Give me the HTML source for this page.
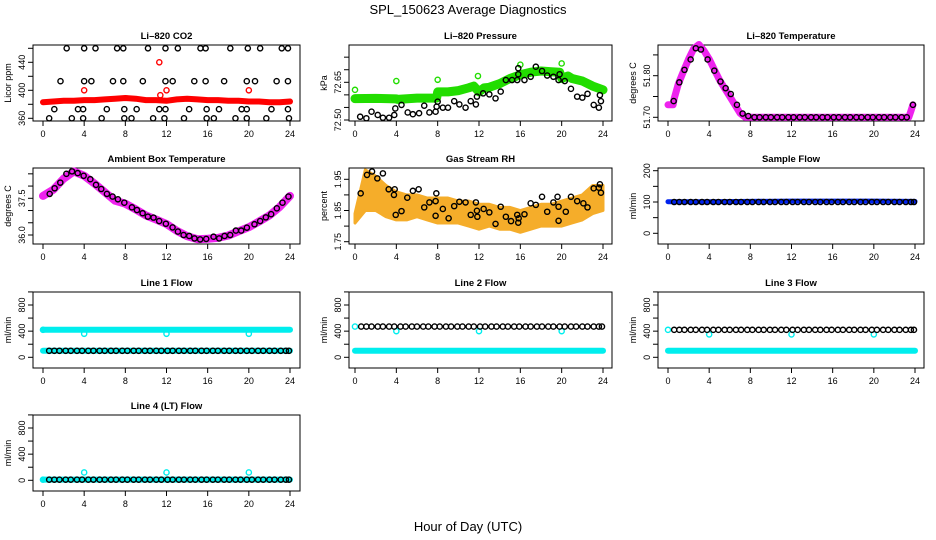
<!DOCTYPE html>
<html><head><meta charset="utf-8"><style>
html,body{margin:0;padding:0;background:#fff;}
svg{display:block;font-family:"Liberation Sans",Arial,sans-serif;}
</style></head><body>
<svg id="chart" width="936" height="540" viewBox="0 0 936 540" xmlns="http://www.w3.org/2000/svg">
<text x="468" y="14" font-size="13" text-anchor="middle">SPL_150623  Average Diagnostics</text>
<text x="468" y="531" font-size="13" text-anchor="middle">Hour of Day (UTC)</text>
</svg>
<script>
// ---------- DATA ----------
const xTickHours = [0,4,8,12,16,20,24];
const flowHours = [0.6,1.1,1.6,2.2,2.7,3.3,3.8,4.4,4.9,5.5,6.0,6.6,7.1,7.7,8.2,8.8,9.3,9.9,10.4,11.0,11.5,12.1,12.6,13.2,13.7,14.3,14.8,15.4,15.9,16.5,17.0,17.6,18.1,18.7,19.2,19.8,20.3,20.9,21.4,22.0,22.5,23.1,23.6,23.9];

// CO2
const co2Hours = [2.3,4.0,5.1,7.2,7.8,10.2,11.9,13.1,15.3,15.8,18.2,19.9,21.1,23.2,23.8,
  1.7,4.0,4.7,6.8,7.8,9.7,11.9,12.6,14.7,15.8,17.6,19.8,20.6,22.7,23.8,
  1.1,3.4,3.9,6.2,7.9,9.1,11.3,11.9,14.2,15.9,17.1,19.3,19.8,22.2,23.8,
  0.6,2.8,3.9,5.7,7.9,8.6,10.7,11.8,13.7,15.9,16.6,18.7,19.8,21.7,23.9];
const co2Ppm = [460,460,460,460,460,460,460,460,460,460,460,460,460,460,460,
  413,413,413,413,413,413,413,413,413,413,413,413,413,413,413,
  373,373,373,373,373,373,373,373,373,373,373,373,373,373,373,
  360,360,360,360,360,360,360,360,360,360,360,360,360,360,360];
const co2BandHours = [0,1,2,3,4,5,6,7,8,9,10,11,12,13,14,15,16,17,18,19,20,21,22,23,24];
const co2BandPpm = [383,384,385,385,386,386,387,388,389,388,386,386,385,387,388,387,386,386,385,385,384,384,383,383,384];
const co2OutHours = [4,12,20,11.3,11.4];
const co2OutPpm = [400,400,400,440,393];

// Pressure
const presHours = [0.5,1.1,1.6,2.2,2.7,3.3,3.8,3.9,4.5,5.1,5.6,6.2,6.7,7.2,7.8,7.9,8.0,8.5,9.0,9.6,10.1,10.7,11.2,11.7,11.8,12.4,13.0,13.6,14.1,14.6,15.2,15.7,15.8,15.8,16.4,17.0,17.5,18.1,18.6,19.2,19.7,19.8,20.3,20.9,21.5,22.0,22.5,23.1,23.6,23.7,23.8];
const presKpa = [72.513,72.507,72.533,72.52,72.509,72.509,72.52,72.546,72.56,72.53,72.523,72.527,72.557,72.53,72.533,72.553,72.573,72.549,72.549,72.575,72.562,72.549,72.575,72.562,72.593,72.606,72.602,72.586,72.613,72.659,72.659,72.659,72.706,72.682,72.659,72.672,72.712,72.695,72.677,72.672,72.659,72.682,72.655,72.624,72.593,72.589,72.604,72.56,72.549,72.599,72.575];
const presBandHours = [0,2,4,4.1,6,7.9,8.0,9,10,11,11.5,12,12.5,13,14,15,16,17,18,19,19.8,20,20.6,21,22,23,24];
const presBandKpa = [72.585,72.586,72.584,72.582,72.587,72.587,72.612,72.612,72.617,72.628,72.635,72.612,72.628,72.630,72.645,72.665,72.680,72.690,72.695,72.692,72.690,72.665,72.675,72.665,72.655,72.635,72.620];
const presOutHours = [0,4,8,11.9,16,20];
const presOutKpa = [72.62,72.655,72.66,72.675,72.72,72.725];

// Li-820 temperature
const liTempHours = [0.55,1.1,1.6,2.2,2.7,3.2,3.85,4.5,5.1,5.6,6.1,6.7,7.25,7.8,8.4,8.9,9.5,10.0,10.6,11.1,11.7,12.2,12.8,13.3,13.9,14.4,15.0,15.5,16.1,16.6,17.2,17.7,18.3,18.8,19.4,19.9,20.5,21.0,21.6,22.1,22.7,23.2,23.8];
const liTempC = [51.739,51.784,51.814,51.839,51.866,51.863,51.839,51.812,51.786,51.77,51.756,51.73,51.709,51.703,51.70,51.70,51.70,51.70,51.70,51.70,51.70,51.70,51.70,51.70,51.70,51.70,51.70,51.70,51.70,51.70,51.70,51.70,51.70,51.70,51.70,51.70,51.70,51.70,51.70,51.70,51.70,51.70,51.73];
const liTempBandHours = [0,0.5,0.6,1,1.5,2,2.5,3,3.5,4,4.5,5,5.5,6,6.5,7,7.5,8,23.4,23.6,23.8];
const liTempBandC = [51.73,51.73,51.745,51.78,51.81,51.84,51.865,51.875,51.86,51.84,51.815,51.79,51.77,51.75,51.73,51.71,51.70,51.70,51.70,51.715,51.73];

// Ambient
const ambHours = [0.65,1.13,1.68,2.27,2.82,3.37,3.95,4.6,5.15,5.66,6.21,6.76,7.28,7.9,8.64,9.13,9.68,10.19,10.74,11.29,11.94,12.59,13.11,13.66,14.21,14.72,15.27,15.86,16.57,17.12,17.64,18.19,18.74,19.26,19.81,20.55,21.1,21.65,22.17,22.72,23.27,23.85];
const ambC = [37.68,37.91,38.14,38.5,38.6,38.53,38.42,38.28,38.05,37.88,37.68,37.57,37.46,37.32,37.13,37.02,36.89,36.75,36.71,36.57,36.46,36.31,36.14,36.0,35.96,35.86,35.82,35.84,35.93,35.86,35.96,36.0,36.18,36.18,36.3,36.44,36.57,36.72,36.85,37.09,37.32,37.57];
const ambBandHours = [0,1,2,3,4,5,6,7,8,9,10,11,12,13,14,15,16,17,18,19,20,21,22,23,24];
const ambBandC = [37.6,37.85,38.3,38.6,38.42,38.1,37.75,37.4,37.28,37.05,36.8,36.63,36.45,36.17,35.95,35.83,35.85,35.88,35.98,36.15,36.32,36.55,36.8,37.15,37.6];

// RH
const rhHours = [0.55,1.16,1.65,2.16,2.7,3.26,3.84,3.77,3.94,4.5,5.06,5.6,6.16,6.7,7.2,7.8,7.87,7.8,8.5,9.06,9.6,10.1,10.7,11.2,11.7,11.8,11.84,12.45,13.0,13.6,14.1,14.6,15.1,15.7,15.8,15.84,16.4,17.0,17.5,18.1,18.6,19.2,19.6,19.7,19.7,20.4,20.9,21.5,22.1,22.5,23.1,23.6,23.7,23.8];
const rhPct = [1.905,1.964,1.975,1.953,1.969,1.918,1.918,1.90,1.836,1.848,1.891,1.913,1.918,1.86,1.876,1.88,1.905,1.833,1.855,1.825,1.864,1.878,1.876,1.836,1.876,1.849,1.83,1.855,1.844,1.807,1.862,1.83,1.816,1.836,1.811,1.825,1.838,1.873,1.868,1.894,1.846,1.876,1.894,1.862,1.817,1.846,1.894,1.88,1.873,1.86,1.921,1.923,1.934,1.907];
const rhEnvHours = [0,1,2,3,4,5,6,7,8,9,10,11,12,13,14,15,16,17,18,19,20,21,22,23,24];
const rhLower = [1.81,1.85,1.85,1.83,1.82,1.82,1.83,1.82,1.81,1.81,1.81,1.80,1.79,1.80,1.79,1.79,1.78,1.79,1.80,1.80,1.80,1.81,1.82,1.84,1.85];
const rhUpper = [1.84,1.98,1.96,1.93,1.91,1.90,1.90,1.89,1.89,1.89,1.88,1.88,1.87,1.87,1.86,1.86,1.85,1.86,1.87,1.87,1.88,1.89,1.90,1.93,1.93];

// Flows
const bandHours = [0,4,8,12,16,20,24];
const sampleBand = [101,101,102,103,103,103,102];
const sampleFlow = [100,100,100,100,100,100,100,100,100,100,100,100,100,100,100,100,100,100,100,100,100,100,100,100,100,100,100,100,100,100,100,100,100,100,100,100,100,100,100,100,100,100,100,100];
const line1Upper = [420,420,420,420,420,420,420];
const line1Lower = [100,100,100,100,100,100,100];
const line1Black = [100,100,100,100,100,100,100,100,100,100,100,100,100,100,100,100,100,100,100,100,100,100,100,100,100,100,100,100,100,100,100,100,100,100,100,100,100,100,100,100,100,100,100,100];
const line2Lower = [100,100,100,100,100,100,100];
const line2Black = [470,470,470,470,470,470,470,470,470,470,470,470,470,470,470,470,470,470,470,470,470,470,470,470,470,470,470,470,470,470,470,470,470,470,470,470,470,470,470,470,470,470,470,470];
const line3Lower = [100,100,100,100,100,100,100];
const line3Black = [420,420,420,420,420,420,420,420,420,420,420,420,420,420,420,420,420,420,420,420,420,420,420,420,420,420,420,420,420,420,420,420,420,420,420,420,420,420,420,420,420,420,420,420];
const line4Lower = [10,10,10,10,10,10,10];
const line4Black = [10,10,10,10,10,10,10,10,10,10,10,10,10,10,10,10,10,10,10,10,10,10,10,10,10,10,10,10,10,10,10,10,10,10,10,10,10,10,10,10,10,10,10,10];
const flowOutHours = [0,4,12,20];
const line1Out = [420,360,360,360];
const line2Out = [470,400,400,400];
const line3Out = [420,350,350,350];
const line4Out = [10,120,120,120];

// ---------- DRAWING ----------
const NS = "http://www.w3.org/2000/svg";
const svg = document.getElementById("chart");
const cols = [{l:33,r:300,x0:43,x24:290},{l:349,r:612,x0:355,x24:603},{l:658,r:924,x0:668,x24:915}];
const rowTops = [45,168,292,415];
const H = 76;

function mk(tag, parent, attrs){
  const e = document.createElementNS(NS, tag);
  for (const k in attrs) e.setAttribute(k, attrs[k]);
  parent.appendChild(e);
  return e;
}

function makePanel(cfg){
  const c = cols[cfg.col], top = rowTops[cfg.row], bot = top + H;
  const g = mk("g", svg, {});
  
  
  const xs = h => c.x0 + h * (c.x24 - c.x0) / 24;
  const ys = v => top + cfg.y1 + (v - cfg.v1) * (cfg.y2 - cfg.y1) / (cfg.v2 - cfg.v1);
  const box = mk("rect", g, {x:c.l, y:top, width:c.r-c.l, height:H, fill:"none", stroke:"#000", "stroke-width":1});
  
  
  const t = mk("text", g, {x:(c.l+c.r)/2, y:top-6, "font-size":9.5, "font-weight":"bold", "text-anchor":"middle"});
  t.textContent = cfg.title;
  
  
  // x axis
  const xa = mk("g", g, {});
  
  
  xTickHours.forEach(h => {
    mk("line", xa, {x1:xs(h), x2:xs(h), y1:bot, y2:bot+5, stroke:"#000"});
    const lb = mk("text", xa, {x:xs(h), y:bot+16, "font-size":9, "text-anchor":"middle"});
    lb.textContent = h;
    
    
  });
  // y axis
  const ya = mk("g", g, {});
  
  
  mk("line", ya, {x1:c.l, x2:c.l, y1:ys(cfg.ticks[0]), y2:ys(cfg.ticks[cfg.ticks.length-1]), stroke:"#000"});
  cfg.ticks.forEach(v => mk("line", ya, {x1:c.l-5, x2:c.l, y1:ys(v), y2:ys(v), stroke:"#000"}));
  cfg.labels.forEach(v => {
    const y = ys(parseFloat(v));
    const lb = mk("text", ya, {x:c.l-8, y:y, "font-size":9, "text-anchor":"middle", transform:`rotate(-90 ${c.l-8} ${y})`});
    lb.textContent = v;
    
    
  });
  const yt = mk("text", ya, {x:c.l-22, y:(top+bot)/2, "font-size":9, "text-anchor":"middle", transform:`rotate(-90 ${c.l-22} ${(top+bot)/2})`});
  yt.textContent = cfg.ylab;
  
  
  return {g, xs, ys};
}

function band(p, hours, vals, color, w, name){
  const pts = hours.map((h,i) => p.xs(h).toFixed(1) + "," + p.ys(vals[i]).toFixed(1)).join(" ");
  const pl = mk("polyline", p.g, {points:pts, fill:"none", stroke:color, "stroke-width":w, "stroke-linecap":"round", "stroke-linejoin":"round"});
  
  
}
function dots(p, hours, vals, color, name){
  const gg = mk("g", p.g, {});
  
  
  hours.forEach((h,i) => {
    const ci = mk("circle", gg, {cx:p.xs(h), cy:p.ys(vals[i]), r:2.6, fill:"none", stroke:color, "stroke-width":1.4});
    
    
  });
}
function envelope(p, hours, lo, hi, color, name){
  const up = hours.map((h,i) => p.xs(h).toFixed(1)+","+p.ys(hi[i]).toFixed(1));
  const dn = hours.map((h,i) => p.xs(h).toFixed(1)+","+p.ys(lo[i]).toFixed(1)).reverse();
  const pg = mk("polygon", p.g, {points:up.concat(dn).join(" "), fill:color, stroke:color, "stroke-width":3, "stroke-linejoin":"round"});
  
  
}

// CO2
let p = makePanel({name:"co2", col:0,row:0,title:"Li\u2013820 CO2",ylab:"Licor ppm",v1:360,y1:73.3,v2:440,y2:17.3,ticks:[360,380,400,420,440,460],labels:["360","400","440"]});
band(p, co2BandHours, co2BandPpm, "#ff0000", 6, "co2-red-band");
dots(p, co2OutHours, co2OutPpm, "#ff0000", "co2-red-outliers");
dots(p, co2Hours, co2Ppm, "#000", "co2-black-points");

// Pressure
p = makePanel({name:"pressure", col:1,row:0,title:"Li\u2013820 Pressure",ylab:"kPa",v1:72.50,y1:75,v2:72.65,y2:37.3,ticks:[72.50,72.55,72.60,72.65,72.70,72.75],labels:["72.50","72.65"]});
band(p, presBandHours, presBandKpa, "#22dd00", 9, "pressure-green-band");
dots(p, presOutHours, presOutKpa, "#22dd00", "pressure-green-outliers");
dots(p, presHours, presKpa, "#000", "pressure-black-points");

// Li temp
p = makePanel({name:"li820-temp", col:2,row:0,title:"Li\u2013820 Temperature",ylab:"degrees C",v1:51.70,y1:72.3,v2:51.80,y2:30.7,ticks:[51.70,51.75,51.80,51.85],labels:["51.70","51.80"]});
band(p, liTempBandHours, liTempBandC, "#ee22ee", 7, "li820-temp-magenta-band");
dots(p, liTempHours, liTempC, "#000", "li820-temp-black-points");

// Ambient
p = makePanel({name:"ambient-temp", col:0,row:1,title:"Ambient Box Temperature",ylab:"degrees C",v1:36.0,y1:67,v2:37.5,y2:30.3,ticks:[36.0,36.5,37.0,37.5,38.0,38.5],labels:["36.0","37.5"]});
band(p, ambBandHours, ambBandC, "#ee22ee", 8, "ambient-magenta-band");
dots(p, ambHours, ambC, "#000", "ambient-black-points");

// RH
p = makePanel({name:"rh", col:1,row:1,title:"Gas Stream RH",ylab:"percent",v1:1.75,y1:73.7,v2:1.95,y2:11.3,ticks:[1.75,1.80,1.85,1.90,1.95],labels:["1.75","1.85","1.95"]});
envelope(p, rhEnvHours, rhLower, rhUpper, "#f5ad2a", "rh-orange-scatter");
dots(p, rhHours, rhPct, "#000", "rh-black-points");

// Sample flow
p = makePanel({name:"sample-flow", col:2,row:1,title:"Sample Flow",ylab:"ml/min",v1:0,y1:65.3,v2:200,y2:2.7,ticks:[0,50,100,150,200],labels:["0","100","200"]});
band(p, bandHours, sampleBand, "#0022ee", 5, "sample-flow-blue-band");
dots(p, flowHours, sampleFlow, "#000", "sample-flow-black-points");

// Line flows
const flowCfg = (name,col,row,title) => ({name,col,row,title,ylab:"ml/min",v1:0,y1:65.3,v2:800,y2:13,ticks:[0,200,400,600,800,1000],labels:["0","400","800"]});
p = makePanel(flowCfg("line1-flow",0,2,"Line 1 Flow"));
band(p, bandHours, line1Upper, "#00eeee", 6, "line1-cyan-upper-band");
band(p, bandHours, line1Lower, "#00eeee", 6, "line1-cyan-lower-band");
dots(p, flowOutHours, line1Out, "#00eeee", "line1-cyan-outliers");
dots(p, flowHours, line1Black, "#000", "line1-black-points");

p = makePanel(flowCfg("line2-flow",1,2,"Line 2 Flow"));
band(p, bandHours, line2Lower, "#00eeee", 6, "line2-cyan-band");
dots(p, flowOutHours, line2Out, "#00eeee", "line2-cyan-outliers");
dots(p, flowHours, line2Black, "#000", "line2-black-points");

p = makePanel(flowCfg("line3-flow",2,2,"Line 3 Flow"));
band(p, bandHours, line3Lower, "#00eeee", 6, "line3-cyan-band");
dots(p, flowOutHours, line3Out, "#00eeee", "line3-cyan-outliers");
dots(p, flowHours, line3Black, "#000", "line3-black-points");

p = makePanel(flowCfg("line4-flow",0,3,"Line 4 (LT) Flow"));
band(p, bandHours, line4Lower, "#00eeee", 6, "line4-cyan-band");
dots(p, flowOutHours, line4Out, "#00eeee", "line4-cyan-outliers");
dots(p, flowHours, line4Black, "#000", "line4-black-points");
</script>
</body></html>
